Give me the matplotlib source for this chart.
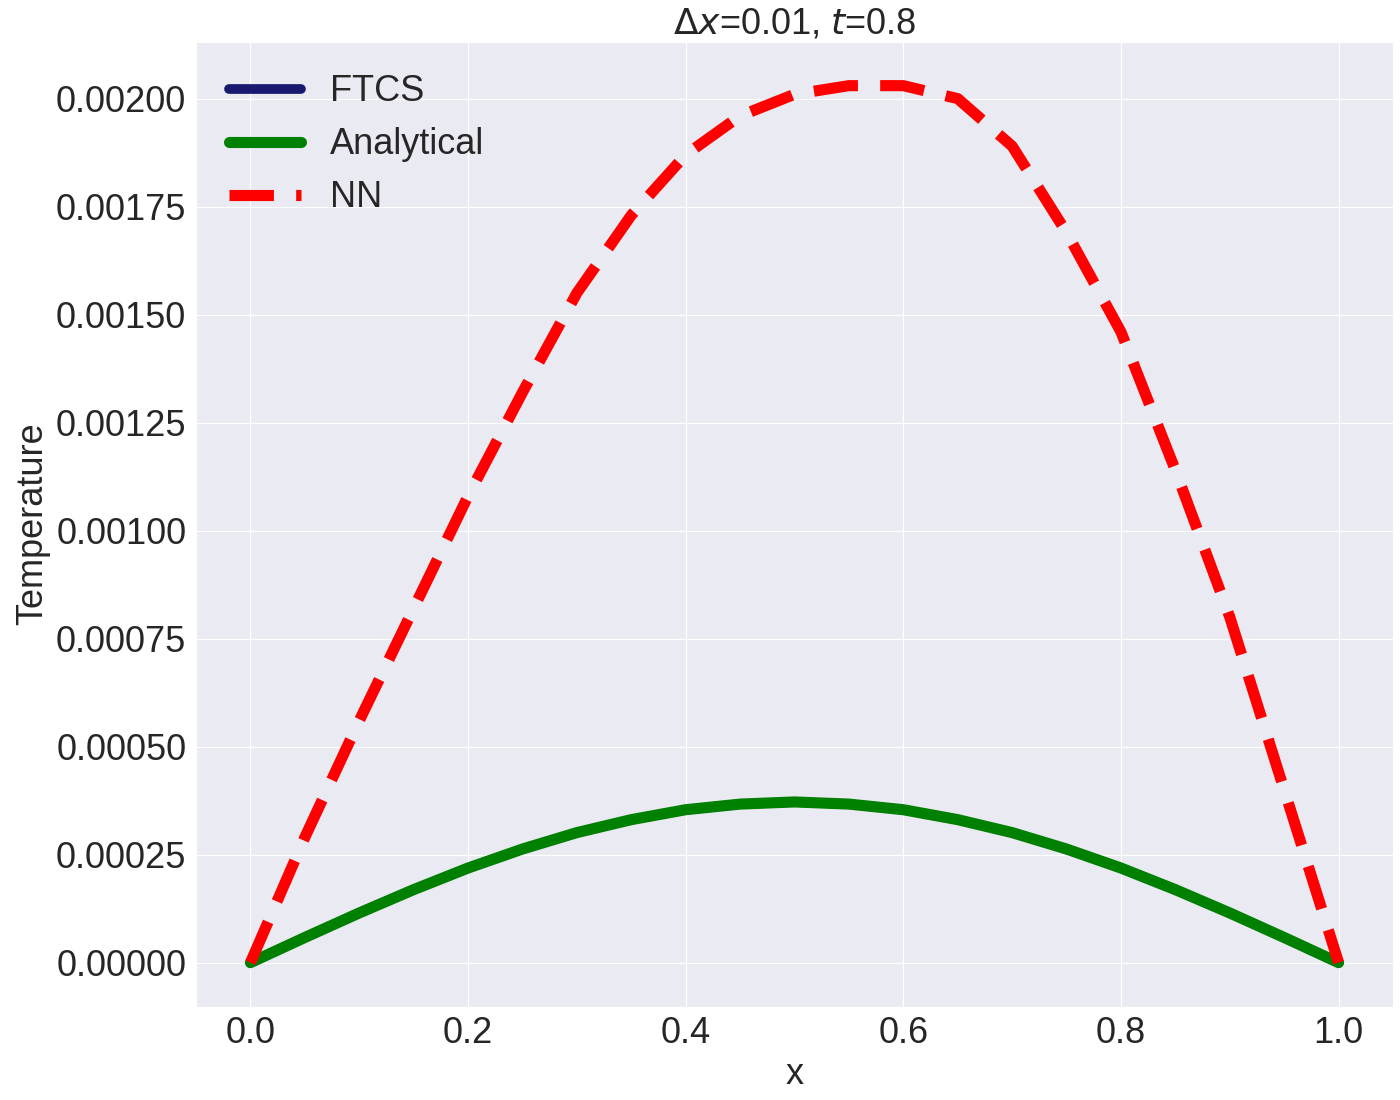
import matplotlib
matplotlib.use('Agg')
import matplotlib.pyplot as plt
import seaborn as sns
import numpy as np

# Data
x_pts = [0.0, 0.05, 0.1, 0.15, 0.2, 0.25, 0.3, 0.35, 0.4, 0.45, 0.5,
         0.55, 0.6, 0.65, 0.7, 0.75, 0.8, 0.85, 0.9, 0.95, 1.0]
analytical = [0.0, 0.0000582, 0.000115, 0.000169, 0.000219, 0.000263,
              0.000301, 0.000331, 0.000354, 0.000367, 0.000372,
              0.000367, 0.000354, 0.000331, 0.000301, 0.000263,
              0.000219, 0.000169, 0.000115, 0.0000582, 0.0]
ftcs = analytical
nn = [0.0, 0.00029, 0.00056, 0.00082, 0.00108, 0.00132, 0.00155, 0.00173,
      0.00187, 0.00196, 0.00201, 0.00203, 0.00203, 0.00200, 0.00189,
      0.00169, 0.00146, 0.00114, 0.00080, 0.00040, 0.0]

sns.set_style('darkgrid')
plt.rcParams['font.family'] = ['Arial', 'Liberation Sans', 'DejaVu Sans']
plt.rcParams['font.size'] = 26

fig, ax = plt.subplots(figsize=(14, 11), dpi=100)
ax.plot(x_pts, ftcs, color='#191970', lw=7, label='FTCS')
ax.plot(x_pts, analytical, color='green', lw=8, label='Analytical')
ax.plot(x_pts, nn, color='red', lw=8, ls='--', dashes=(4, 2), label='NN')
ax.set_xlabel('x', fontsize=26)
ax.set_ylabel('Temperature', fontsize=26)
ax.set_title(r'$\Delta x$=0.01, $t$=0.8', fontsize=26)
ax.tick_params(labelsize=26)
ax.set_xticks([0.0, 0.2, 0.4, 0.6, 0.8, 1.0])
ax.yaxis.set_major_formatter(matplotlib.ticker.FormatStrFormatter('%.5f'))
ax.legend(loc='upper left', frameon=False, fontsize=26)
fig.subplots_adjust(left=0.14, right=0.995, top=0.962, bottom=0.085)
fig.savefig('out.png')
